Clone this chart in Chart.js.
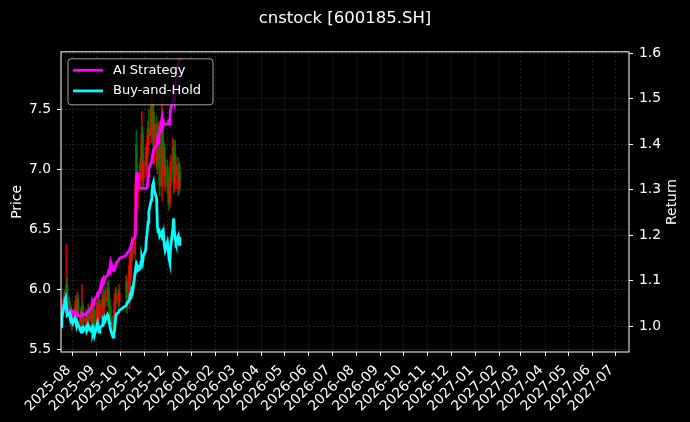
<!DOCTYPE html>
<html>
<head>
<meta charset="utf-8">
<title>cnstock [600185.SH]</title>
<script src="https://cdn.jsdelivr.net/npm/chart.js@4.4.1/dist/chart.umd.min.js"></script>
<style>
  html, body { margin: 0; padding: 0; background: #000; }
  #wrap { width: 690px; height: 422px; }
</style>
</head>
<body>
<div id="wrap"><canvas id="main-chart" width="690" height="422"></canvas></div>
<script>
/* ---- data ---- */

const tradeDates = [
  "2025-07-17","2025-07-18","2025-07-21","2025-07-22","2025-07-23","2025-07-24","2025-07-25","2025-07-28","2025-07-29","2025-07-30","2025-07-31",
  "2025-08-01","2025-08-04","2025-08-05","2025-08-06","2025-08-07","2025-08-08","2025-08-11","2025-08-12","2025-08-13","2025-08-14","2025-08-15",
  "2025-08-18","2025-08-19","2025-08-20","2025-08-21","2025-08-22","2025-08-25","2025-08-26","2025-08-27","2025-08-28","2025-08-29",
  "2025-09-01","2025-09-02","2025-09-03","2025-09-04","2025-09-05","2025-09-08","2025-09-09","2025-09-10","2025-09-11","2025-09-12","2025-09-15",
  "2025-09-16","2025-09-17","2025-09-18","2025-09-19","2025-09-22","2025-09-23","2025-09-24","2025-09-25","2025-09-26","2025-09-29","2025-09-30",
  "2025-10-09","2025-10-10","2025-10-13","2025-10-14","2025-10-15","2025-10-16","2025-10-17","2025-10-20","2025-10-21","2025-10-22","2025-10-23",
  "2025-10-24","2025-10-27","2025-10-28","2025-10-29","2025-10-30","2025-10-31",
  "2025-11-03","2025-11-04","2025-11-05","2025-11-06","2025-11-07","2025-11-10","2025-11-11","2025-11-12","2025-11-13","2025-11-14","2025-11-17",
  "2025-11-18","2025-11-19","2025-11-20","2025-11-21","2025-11-24","2025-11-25","2025-11-26","2025-11-27","2025-11-28",
  "2025-12-01","2025-12-02","2025-12-03","2025-12-04","2025-12-05","2025-12-08","2025-12-09","2025-12-10","2025-12-11","2025-12-12","2025-12-15",
  "2025-12-16","2025-12-17"
];

const openPrices = [
  5.70,5.78,5.88,5.94,5.88,5.92,6.04,5.90,5.78,5.82,5.75,
  5.70,5.77,5.86,5.83,5.78,5.92,5.80,5.72,5.75,5.86,5.73,5.76,5.72,5.68,5.78,5.80,5.74,5.84,5.78,5.72,5.82,
  5.70,5.84,5.90,5.76,5.80,5.88,5.84,5.92,5.86,5.94,5.90,6.00,5.92,5.86,5.76,5.70,5.64,5.78,5.90,5.96,5.94,5.90,
  5.98,6.06,5.88,6.20,6.10,6.30,6.36,6.30,6.54,7.20,6.86,6.78,6.90,7.04,6.98,7.30,6.92,
  7.06,7.02,7.14,7.22,7.34,7.28,7.52,7.36,7.48,7.20,7.38,7.08,7.22,7.10,7.32,6.86,7.44,7.08,7.18,6.94,
  7.02,6.86,6.80,6.72,6.90,7.06,7.18,6.88,7.12,6.96,7.04,6.84,6.98
];
const highPrices = [
  5.82,5.92,5.98,6.00,5.98,6.38,6.10,5.94,5.86,5.86,5.80,
  5.80,5.90,5.95,5.88,5.98,5.96,5.84,5.80,6.04,5.90,5.80,5.84,5.78,5.82,5.88,5.86,5.90,5.94,5.86,5.88,5.86,
  5.88,5.96,5.94,5.88,5.92,5.98,5.96,6.00,5.98,6.02,6.06,6.08,6.02,5.92,5.86,5.78,5.82,5.96,6.00,6.02,6.00,6.04,
  6.12,6.10,6.28,6.30,6.38,6.44,6.42,6.60,6.96,7.32,7.00,6.96,7.10,7.20,7.48,7.36,7.12,
  7.18,7.20,7.28,7.40,7.50,7.62,7.60,7.56,7.54,7.46,7.44,7.30,7.36,7.40,7.38,7.62,7.50,7.24,7.22,7.10,
  7.08,6.98,6.92,6.94,7.12,7.26,7.24,7.20,7.24,7.10,7.10,7.06,7.04
];
const lowPrices = [
  5.66,5.74,5.82,5.84,5.80,5.86,5.84,5.74,5.70,5.72,5.66,
  5.68,5.74,5.80,5.74,5.76,5.78,5.68,5.66,5.72,5.70,5.68,5.70,5.64,5.66,5.74,5.70,5.70,5.76,5.68,5.68,5.66,
  5.66,5.78,5.72,5.64,5.76,5.80,5.78,5.82,5.80,5.86,5.86,5.88,5.82,5.72,5.66,5.60,5.62,5.74,5.84,5.88,5.84,5.86,
  5.90,5.80,5.84,6.02,6.06,6.22,6.24,6.26,6.48,6.78,6.70,6.66,6.84,6.92,6.94,6.84,6.86,
  6.96,6.94,7.04,7.12,7.20,7.22,7.30,7.24,7.10,7.04,7.00,6.96,7.02,7.04,6.78,6.74,7.00,6.96,6.86,6.82,
  6.80,6.72,6.66,6.68,6.86,6.98,6.80,6.82,6.90,6.84,6.78,6.80,6.82
];
const closePrices = [
  5.78,5.88,5.94,5.88,5.92,6.04,5.90,5.78,5.82,5.75,5.70,
  5.77,5.86,5.83,5.78,5.92,5.80,5.72,5.75,5.86,5.73,5.76,5.72,5.68,5.78,5.80,5.74,5.84,5.78,5.72,5.82,5.70,
  5.84,5.90,5.76,5.80,5.88,5.84,5.92,5.86,5.94,5.90,6.00,5.92,5.86,5.76,5.70,5.64,5.78,5.90,5.96,5.94,5.90,5.98,
  6.06,5.88,6.20,6.10,6.30,6.36,6.30,6.54,6.88,6.86,6.78,6.90,7.04,6.98,7.30,6.92,7.06,
  7.02,7.14,7.22,7.34,7.28,7.52,7.36,7.48,7.20,7.38,7.08,7.22,7.10,7.32,6.86,7.44,7.08,7.18,6.94,7.02,
  6.86,6.80,6.72,6.90,7.06,7.18,6.88,7.12,6.96,7.04,6.84,6.98,6.90
];

// cumulative returns (right axis)
const aiStrategy = [
  1.000,1.018,1.046,1.057,1.062,1.044,1.035,1.036,1.033,1.035,1.031,
  1.033,1.030,1.028,1.031,1.027,1.024,1.022,1.024,1.026,1.024,1.027,1.025,1.028,1.031,1.033,1.035,1.040,1.046,1.053,1.050,1.058,
  1.066,1.071,1.068,1.075,1.080,1.101,1.098,1.105,1.101,1.108,1.112,1.119,1.115,1.127,1.141,1.123,1.128,1.125,1.131,1.138,1.145,1.149,
  1.156,1.160,1.167,1.171,1.175,1.182,1.189,1.196,1.204,1.325,1.338,1.310,1.303,1.303,1.303,1.303,1.303,
  1.303,1.303,1.305,1.330,1.347,1.360,1.368,1.376,1.387,1.391,1.398,1.409,1.402,1.420,1.426,1.457,1.442,1.448,1.444,1.444,
  1.444,1.448,1.444,1.448,1.475,1.497,1.508,1.497,1.530,1.541,1.574,1.585,1.589
];
const buyAndHold = [
  1.000,1.018,1.046,1.057,1.062,1.044,1.024,1.029,1.018,1.009,1.013,
  1.007,1.018,1.013,1.002,1.009,1.004,0.991,0.987,0.996,0.998,0.991,0.998,0.989,0.993,1.002,0.998,0.991,0.996,0.985,0.991,0.980,
  1.000,1.007,0.996,0.987,0.996,1.002,1.013,1.009,1.018,1.013,1.026,1.022,1.009,1.002,0.991,0.976,0.985,0.991,1.013,1.026,1.031,1.035,
  1.046,1.051,1.057,1.068,1.066,1.079,1.075,1.112,1.127,1.138,1.134,1.123,1.127,1.141,1.149,1.141,1.154,
  1.167,1.193,1.207,1.229,1.251,1.277,1.292,1.310,1.316,1.299,1.281,1.222,1.207,1.215,1.198,1.207,1.189,1.200,1.178,1.167,
  1.185,1.171,1.149,1.141,1.171,1.215,1.237,1.207,1.193,1.185,1.198,1.180,1.196
];

const monthTicks = [
  "2025-08","2025-09","2025-10","2025-11","2025-12","2026-01","2026-02","2026-03",
  "2026-04","2026-05","2026-06","2026-07","2026-08","2026-09","2026-10","2026-11",
  "2026-12","2027-01","2027-02","2027-03","2027-04","2027-05","2027-06","2027-07"
];
const priceTicks = [5.5, 6.0, 6.5, 7.0, 7.5];
const returnTicks = [1.0, 1.1, 1.2, 1.3, 1.4, 1.5, 1.6];

const dateRange = ["2025-07-17", "2027-07-18"];
const priceRange = [5.48, 7.978];
const returnRange = [0.9435, 1.603];

const chartTitle = "cnstock [600185.SH]";
const priceLabel = "Price";
const returnLabel = "Return";

/* ---- helpers ---- */

const FONT = "'DejaVu Sans', sans-serif";
const UP = "rgba(255,0,0,0.8)";
const DOWN = "rgba(0,128,0,0.8)";
const GRID = "rgba(255,255,255,0.22)";

const toX = d => Date.parse(d);
const candleColors = closePrices.map((c, i) => (c >= openPrices[i] ? UP : DOWN));

// white box round the plot, like matplotlib spines
const framePlugin = {
  id: "frame",
  afterDatasetsDraw(chart) {
    const a = chart.chartArea, ctx = chart.ctx;
    ctx.save();
    ctx.strokeStyle = "#fff";
    ctx.lineWidth = 1;
    ctx.strokeRect(a.left, a.top, a.right - a.left, a.bottom - a.top);
    ctx.restore();
  }
};

// right axis title reads bottom-to-top (Chart.js turns it the other way)
const rightTitle = {
  id: "rightTitle",
  afterDraw(chart) {
    const a = chart.chartArea, ctx = chart.ctx;
    ctx.save();
    ctx.translate(chart.width - 17.5, (a.top + a.bottom) / 2);
    ctx.rotate(-Math.PI / 2);
    ctx.font = "13.9px " + FONT;
    ctx.fillStyle = "#fff";
    ctx.textAlign = "center";
    ctx.textBaseline = "middle";
    ctx.fillText(returnLabel, 0, 0);
    ctx.restore();
  }
};

// legend inside the plot, top left, semi-opaque box
const boxLegend = {
  id: "boxLegend",
  afterDraw(chart) {
    const a = chart.chartArea, ctx = chart.ctx;
    const items = chart.data.datasets.filter(d => d.type === "line");
    const x = a.left + 7, y = a.top + 7, w = 145, h = 46;
    ctx.save();
    ctx.beginPath();
    ctx.roundRect(x, y, w, h, 3);
    ctx.fillStyle = "rgba(0,0,0,0.8)";
    ctx.fill();
    ctx.strokeStyle = "rgba(204,204,204,0.8)";
    ctx.lineWidth = 1;
    ctx.stroke();
    ctx.font = "13px " + FONT;
    ctx.textBaseline = "middle";
    items.forEach((ds, i) => {
      const ly = y + 11.5 + i * 20.6;
      ctx.strokeStyle = ds.borderColor;
      ctx.lineWidth = 2.8;
      ctx.beginPath();
      ctx.moveTo(x + 5, ly);
      ctx.lineTo(x + 35, ly);
      ctx.stroke();
      ctx.fillStyle = "#fff";
      ctx.fillText(ds.label, x + 45, ly);
    });
    ctx.restore();
  }
};

function yAxis(pos, range, tickVals, label) {
  return {
    type: "linear",
    position: pos,
    min: range[0],
    max: range[1],
    afterBuildTicks: s => { s.ticks = tickVals.map(v => ({ value: v })); },
    afterFit: s => { s.width = 61; },
    ticks: {
      color: "#fff",
      padding: 6,
      font: { family: FONT, size: 13.9 },
      callback: v => Number(v).toFixed(1)
    },
    grid: {
      color: GRID,
      lineWidth: 0.6,
      tickColor: "#fff",
      tickLength: 4,
      tickWidth: 1,
      drawOnChartArea: true
    },
    border: { display: false, dash: [2, 2] },
    title: {
      display: !!label,
      text: label,
      color: "#fff",
      font: { family: FONT, size: 13.9 },
      padding: { top: 9, bottom: 0 }
    }
  };
}

/* ---- chart ---- */

new Chart(document.getElementById("main-chart"), {
  type: "line",
  data: {
    datasets: [
      {
        type: "line",
        label: "AI Strategy",
        data: tradeDates.map((d, i) => ({ x: toX(d), y: aiStrategy[i] })),
        yAxisID: "y1",
        borderColor: "#ff00ff",
        borderWidth: 2.8,
        pointRadius: 0,
        tension: 0,
        order: 1
      },
      {
        type: "line",
        label: "Buy-and-Hold",
        data: tradeDates.map((d, i) => ({ x: toX(d), y: buyAndHold[i] })),
        yAxisID: "y1",
        borderColor: "#00ffff",
        borderWidth: 2.8,
        pointRadius: 0,
        tension: 0,
        order: 0
      },
      {
        // candle wicks
        type: "bar",
        label: "wick",
        data: tradeDates.map((d, i) => ({ x: toX(d), y: [lowPrices[i], highPrices[i]] })),
        yAxisID: "y",
        backgroundColor: candleColors,
        barThickness: 1,
        grouped: false,
        order: 3
      },
      {
        // candle bodies
        type: "bar",
        label: "body",
        data: tradeDates.map((d, i) => ({ x: toX(d), y: [openPrices[i], closePrices[i]] })),
        yAxisID: "y",
        backgroundColor: candleColors,
        barThickness: 2,
        grouped: false,
        order: 2
      }
    ]
  },
  options: {
    responsive: false,
    animation: false,
    layout: { padding: 0 },
    plugins: {
      legend: { display: false },
      tooltip: { enabled: false },
      title: {
        display: true,
        text: chartTitle,
        color: "#fff",
        font: { family: FONT, size: 16.5, weight: "normal" },
        padding: { top: 9, bottom: 23 }
      }
    },
    scales: {
      x: {
        type: "linear",
        min: toX(dateRange[0]),
        max: toX(dateRange[1]),
        offset: false,
        afterBuildTicks: s => { s.ticks = monthTicks.map(m => ({ value: toX(m + "-01") })); },
        afterFit: s => { s.height = 70; },
        ticks: {
          color: "#fff",
          autoSkip: false,
          minRotation: 45,
          maxRotation: 45,
          padding: 6,
          labelOffset: -4,
          font: { family: FONT, size: 13.9 },
          callback: (v, i) => monthTicks[i]
        },
        grid: {
          offset: false,
          color: GRID,
          lineWidth: 0.6,
          tickColor: "#fff",
          tickLength: 4,
          tickWidth: 1
        },
        border: { display: false, dash: [2, 2] }
      },
      y: yAxis("left", priceRange, priceTicks, priceLabel),
      y1: yAxis("right", returnRange, returnTicks, "")
    }
  },
  plugins: [framePlugin, rightTitle, boxLegend]
});
</script>
</body>
</html>
